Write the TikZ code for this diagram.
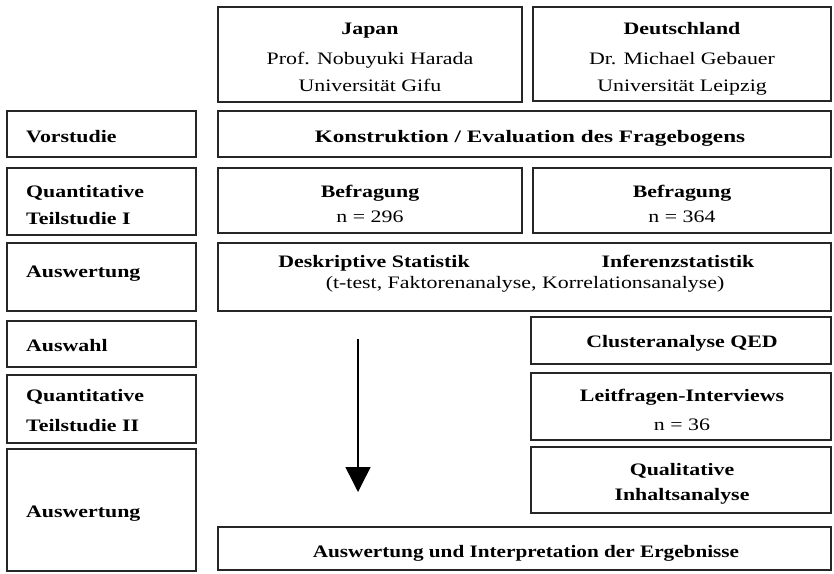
\documentclass[tikz,border=0pt]{standalone}
\usepackage{fontspec}
\setmainfont[FakeStretch=1.25]{Liberation Serif}
\usetikzlibrary{arrows.meta}
\begin{document}
\begin{tikzpicture}[x=1pt,y=-1pt,
  box/.style={draw=black!85, line width=1.5pt, inner sep=0pt},
  txt/.style={inner sep=0pt, anchor=base, font=\fontsize{17.5}{21}\selectfont},
  btxt/.style={txt, font=\fontsize{17.5}{21}\selectfont\bfseries},
  ltxt/.style={btxt, anchor=base west},
  flow/.style={line width=1.5pt, draw=black, -{Triangle[width=25pt,length=25pt]}}]
\useasboundingbox (0,0) rectangle (834,573);
% boxes
\node[box, minimum width=304pt, minimum height=95pt] (jp) at (370,54.5) {};
\node[box, minimum width=298pt, minimum height=94pt] (de) at (682,54) {};
\node[box, minimum width=189pt, minimum height=46pt] (vor) at (101.5,134) {};
\node[box, minimum width=189pt, minimum height=67pt] (qt1) at (101.5,201.5) {};
\node[box, minimum width=189pt, minimum height=68pt] (au1) at (101.5,277) {};
\node[box, minimum width=189pt, minimum height=46pt] (asw) at (101.5,344) {};
\node[box, minimum width=189pt, minimum height=68pt] (qt2) at (101.5,409) {};
\node[box, minimum width=189pt, minimum height=122pt] (au2) at (101.5,510) {};
\node[box, minimum width=613pt, minimum height=46pt] (kon) at (524.5,134) {};
\node[box, minimum width=304pt, minimum height=65pt] (bjp) at (370,200.5) {};
\node[box, minimum width=298pt, minimum height=65pt] (bde) at (682,200.5) {};
\node[box, minimum width=613pt, minimum height=68pt] (desk) at (524.5,277) {};
\node[box, minimum width=300pt, minimum height=47pt] (clu) at (681,340.5) {};
\node[box, minimum width=300pt, minimum height=67pt] (leit) at (681,406.5) {};
\node[box, minimum width=300pt, minimum height=66pt] (qual) at (681,480) {};
\node[box, minimum width=613pt, minimum height=43pt] (fin) at (524.5,548.5) {};
% header texts
\node[btxt] (jp1) at (370,34) {Japan};
\node[txt]  (jp2) at (370,64) {Prof. Nobuyuki Harada};
\node[txt]  (jp3) at (370,91) {Universit\"at Gifu};
\node[btxt] (de1) at (682,34) {Deutschland};
\node[txt]  (de2) at (682,64) {Dr. Michael Gebauer};
\node[txt]  (de3) at (682,91) {Universit\"at Leipzig};
% left column texts
\node[ltxt] (vort) at (26,142) {Vorstudie};
\node[ltxt] (qt1a) at (26,197) {Quantitative};
\node[ltxt] (qt1b) at (26,224.5) {Teilstudie I};
\node[ltxt] (au1t) at (26,277) {Auswertung};
\node[ltxt] (aswt) at (26,351) {Auswahl};
\node[ltxt] (qt2a) at (26,401) {Quantitative};
\node[ltxt] (qt2b) at (26,431) {Teilstudie II};
\node[ltxt] (au2t) at (26,517) {Auswertung};
% main column texts
\node[btxt] (kont) at (530,142) {\scalebox{1.06}[1]{Konstruktion / Evaluation des Fragebogens}};
\node[btxt] (bjp1) at (370,197.5) {Befragung};
\node[txt]  (bjp2) at (370,222) {n = 296};
\node[btxt] (bde1) at (682,197.5) {Befragung};
\node[txt]  (bde2) at (682,222) {n = 364};
\node[btxt] (dst) at (374,267) {Deskriptive Statistik};
\node[btxt] (inf) at (678,267) {Inferenzstatistik};
\node[txt]  (tt)  at (525,288) {(t-test, Faktorenanalyse, Korrelationsanalyse)};
\node[btxt] (clut) at (682,347) {Clusteranalyse QED};
\node[btxt] (leit1) at (682,401) {Leitfragen-Interviews};
\node[txt]  (leit2) at (682,430) {n = 36};
\node[btxt] (qual1) at (682,475) {Qualitative};
\node[btxt] (qual2) at (682,500) {Inhaltsanalyse};
\node[btxt] (fint) at (526,557) {\scalebox{0.97}[1]{Auswertung und Interpretation der Ergebnisse}};
% arrow
\coordinate (a1) at (358,339);
\coordinate (a2) at (358,492);
\draw[flow] (a1) -- (a2);
\end{tikzpicture}
\end{document}
